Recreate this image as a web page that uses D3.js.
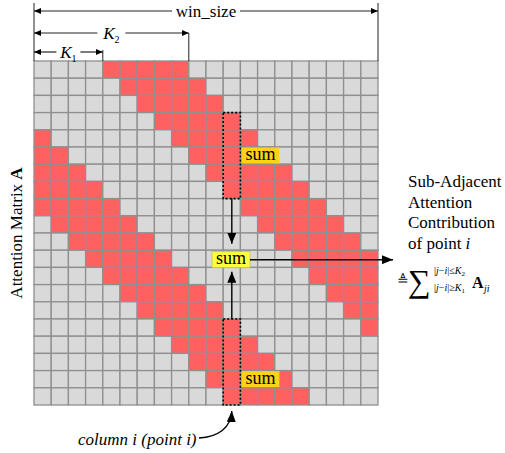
<!DOCTYPE html>
<html>
<head>
<meta charset="utf-8">
<script src="https://d3js.org/d3.v7.min.js"></script>
<style>
  body { margin: 0; background: #fff; }
</style>
</head>
<body>
<div id="chart-area"></div>
<script>
// attention matrix, one string per row j, "1" = attended (red) cell
const matrix = [
    "00001111100000000000",
    "00000111110000000000",
    "00000011111000000000",
    "00000001111100000000",
    "10000000111110000000",
    "11000000011111000000",
    "11100000001111100000",
    "11110000000111110000",
    "11111000000011111000",
    "01111100000001111100",
    "00111110000000111110",
    "00011111000000011111",
    "00001111100000001111",
    "00000111110000000111",
    "00000011111000000011",
    "00000001111100000001",
    "00000000111110000000",
    "00000000011111000000",
    "00000000001111100000",
    "00000000000111110000"
];
const K1 = 4;
const K2 = 9;
const colI = 11;
// row ranges of the two dotted groups in column i, and the rows where "sum" sits
const groups = [[3, 7], [15, 19]];
const sumRows = [5, 18];
const rightLines = ["Sub-Adjacent", "Attention", "Contribution", "of point "];

const n = matrix.length;
const serif = "'Liberation Serif', 'Times New Roman', Times, 'DejaVu Serif', serif";

const svg = d3.select("#chart-area").append("svg")
    .attr("width", 505)
    .attr("height", 453)
    .style("font-family", serif);

const x = d3.scaleBand().domain(d3.range(n)).range([34, 378]);
const y = d3.scaleBand().domain(d3.range(n)).range([61, 405]);
const cw = x.bandwidth();

const defs = svg.append("defs");
function marker(id, len, wid) {
    defs.append("marker")
        .attr("id", id)
        .attr("markerUnits", "userSpaceOnUse")
        .attr("viewBox", `0 0 ${len} ${wid}`)
        .attr("refX", len).attr("refY", wid / 2)
        .attr("markerWidth", len).attr("markerHeight", wid)
        .attr("orient", "auto-start-reverse")
        .append("path")
        .attr("d", `M0,0L${len},${wid / 2}L0,${wid}Z`)
        .attr("fill", "#000");
}
marker("small", 7, 6);
marker("big", 11, 9);

// cells
const cells = [];
matrix.forEach(function (row, j) {
    row.split("").forEach(function (v, i) {
        cells.push({ i: i, j: j, v: +v });
    });
});

svg.append("g").selectAll("rect")
    .data(cells)
    .enter()
    .append("rect")
    .attr("x", d => x(d.i))
    .attr("y", d => y(d.j))
    .attr("width", cw)
    .attr("height", cw)
    .attr("fill", d => d.v ? "#ff6161" : "#d9d9d9")
    .attr("stroke", "#8f8f8f")
    .attr("stroke-width", 1.3);

// dimension lines at top
const x0 = x(0), xEnd = x(n - 1) + cw;
const dark = "#222";
function vline(vx, y1, y2) {
    svg.append("line").attr("x1", vx).attr("x2", vx).attr("y1", y1).attr("y2", y2)
        .attr("stroke", dark).attr("stroke-width", 1);
}
vline(x0, 3, 61);
vline(xEnd, 3, 61);
vline(x(K2), 33, 61);
vline(x(K1), 50, 61);

const dims = [
    { y: 11, x2: xEnd, label: "win_size", gap: 34 },
    { y: 33, x2: x(K2), label: "K", sub: "2", gap: 14 },
    { y: 52, x2: x(K1), label: "K", sub: "1", gap: 12 }
];
dims.forEach(function (d) {
    const mid = (x0 + d.x2) / 2;
    svg.append("line")
        .attr("x1", x0).attr("x2", mid - d.gap).attr("y1", d.y).attr("y2", d.y)
        .attr("stroke", dark).attr("stroke-width", 1.2)
        .attr("marker-start", "url(#small)");
    svg.append("line")
        .attr("x1", mid + d.gap).attr("x2", d.x2).attr("y1", d.y).attr("y2", d.y)
        .attr("stroke", dark).attr("stroke-width", 1.2)
        .attr("marker-end", "url(#small)");
    const t = svg.append("text")
        .attr("x", mid).attr("y", d.y + 6)
        .attr("text-anchor", "middle")
        .attr("font-size", 17);
    if (d.sub) {
        t.append("tspan").attr("font-style", "italic").text(d.label);
        t.append("tspan").attr("font-size", 10).attr("dy", 4).text(d.sub);
    } else {
        t.text(d.label);
    }
});

// dotted groups in column i
groups.forEach(function (g) {
    svg.append("rect")
        .attr("x", x(colI)).attr("y", y(g[0]))
        .attr("width", cw).attr("height", y(g[1]) + cw - y(g[0]))
        .attr("fill", "none")
        .attr("stroke", "#000").attr("stroke-width", 1.6)
        .attr("stroke-dasharray", "2,2");
});

// sum labels
function sumBox(bx, by, fill, border) {
    svg.append("rect")
        .attr("x", bx).attr("y", by).attr("width", 38).attr("height", 16)
        .attr("fill", fill)
        .attr("stroke", border || "none").attr("stroke-width", 0.8);
    svg.append("text")
        .attr("x", bx + 19).attr("y", by + 12.5)
        .attr("text-anchor", "middle")
        .attr("font-size", 18)
        .text("sum");
}
const cx = x(colI) + cw / 2;
sumRows.forEach(function (r) {
    sumBox(x(colI + 1) + 1, y(r) + 0.5, "#fcd318");
});
const midY = y(11) + 1.5;
sumBox(212, midY, "#ffff3c", "#bdbd6a");

// arrows between the sums
svg.append("line")
    .attr("x1", cx).attr("x2", cx)
    .attr("y1", y(groups[0][1]) + cw).attr("y2", midY - 8)
    .attr("stroke", "#000").attr("stroke-width", 1.4)
    .attr("marker-end", "url(#big)");
svg.append("line")
    .attr("x1", cx).attr("x2", cx)
    .attr("y1", y(groups[1][0])).attr("y2", midY + 20)
    .attr("stroke", "#000").attr("stroke-width", 1.4)
    .attr("marker-end", "url(#big)");
svg.append("line")
    .attr("x1", 250).attr("x2", 393)
    .attr("y1", midY + 8).attr("y2", midY + 8)
    .attr("stroke", "#000").attr("stroke-width", 1.4)
    .attr("marker-end", "url(#big)");

// curved arrow from caption
svg.append("path")
    .attr("d", `M199,438 C218,437 231,428 ${cx},411`)
    .attr("fill", "none")
    .attr("stroke", "#000").attr("stroke-width", 1.4)
    .attr("marker-end", "url(#big)");

svg.append("text")
    .attr("x", 78).attr("y", 445)
    .attr("font-size", 17)
    .attr("font-style", "italic")
    .text("column i (point i)");

// y label
svg.append("text")
    .attr("transform", "translate(22,233) rotate(-90)")
    .attr("text-anchor", "middle")
    .attr("font-size", 17)
    .call(function (t) {
        t.append("tspan").text("Attention Matrix ");
        t.append("tspan").attr("font-weight", "bold").text("A");
    });

// right side text
svg.append("g").selectAll("text")
    .data(rightLines)
    .enter()
    .append("text")
    .attr("x", 408)
    .attr("y", (d, k) => 187 + k * 20.5)
    .attr("font-size", 17)
    .each(function (d, k) {
        const t = d3.select(this);
        t.append("tspan").text(d);
        if (k === rightLines.length - 1) {
            t.append("tspan").attr("font-style", "italic").text("i");
        }
    });

// formula
const fy = 290;
svg.append("text").attr("x", 397).attr("y", fy - 5).attr("font-size", 14).text("\u225C");
svg.append("text").attr("x", 408).attr("y", fy + 2).attr("font-size", 32).text("\u2211");
function script(sx, sy, sym, sub) {
    const t = svg.append("text").attr("x", sx).attr("y", sy).attr("font-size", 10);
    t.append("tspan").text("|");
    t.append("tspan").attr("font-style", "italic").text("j");
    t.append("tspan").text("\u2212");
    t.append("tspan").attr("font-style", "italic").text("i");
    t.append("tspan").text("|" + sym);
    t.append("tspan").attr("font-style", "italic").text("K");
    t.append("tspan").attr("font-size", 7).attr("dy", 2).text(sub);
}
script(434, fy - 16, "\u2264", "2");
script(434, fy + 1, "\u2265", "1");
svg.append("text").attr("x", 472).attr("y", fy - 2).attr("font-size", 16)
    .attr("font-weight", "bold").text("A");
svg.append("text").attr("x", 484).attr("y", fy + 2).attr("font-size", 10)
    .attr("font-style", "italic").text("ji");
</script>
</body>
</html>
